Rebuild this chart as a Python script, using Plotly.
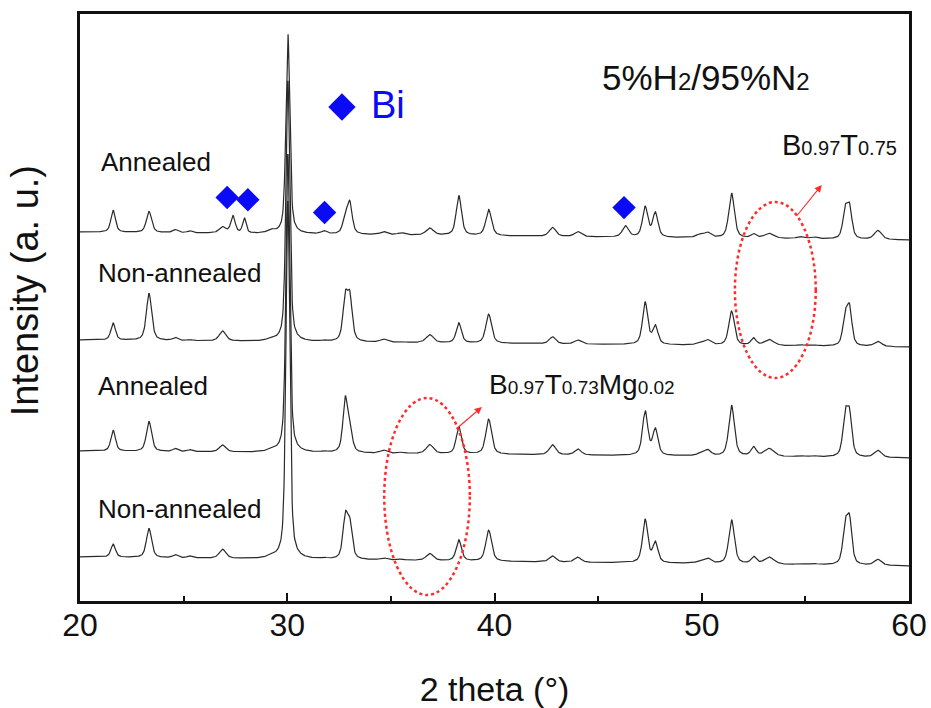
import numpy as np
import plotly.graph_objects as go

# ---- diffraction data (2theta in degrees, intensity in a.u.) ----
peak_2theta = [21.6, 23.33, 24.6, 25.3, 26.88, 27.38, 27.93, 29.2, 30.03, 31.77,
               32.8, 33.02, 34.65, 35.5, 36.88, 38.28, 39.72, 42.8, 44.02, 46.32,
               47.27, 47.76, 49.9, 50.28, 51.44, 52.5, 53.25, 54.75, 55.4, 56.92,
               57.13, 58.5]
peak_fwhm = [0.26, 0.3, 0.3, 0.3, 0.38, 0.25, 0.2, 0.4, 0.22, 0.3,
             0.27, 0.27, 0.4, 0.4, 0.42, 0.3, 0.33, 0.38, 0.38, 0.35,
             0.3, 0.3, 0.4, 0.38, 0.32, 0.3, 0.55, 0.4, 0.4, 0.27,
             0.27, 0.42]

# peak heights for each pattern (same order as peak_2theta)
h_annealed_bt = [22, 21, 3, 2, 6, 17, 15, 3, 201, 3,
                 17, 30, 3, 2, 7, 40, 26, 9, 5, 11,
                 30, 24, 3, 5, 45, 4, 5, 2, 2, 27,
                 30, 9]
h_nonannealed_bt = [17, 47, 3, 1, 10, 0, 0, 2, 262, 1,
                    42, 42, 3, 1, 8, 20, 29, 7, 4, 0,
                    42, 18, 2, 5, 34, 7, 6, 1, 1, 28,
                    36, 5]
h_annealed_btm = [21, 30, 3, 2, 7, 0, 0, 2, 300, 1,
                  52, 22, 3, 1, 9, 27, 35, 10, 6, 0,
                  44, 26, 2, 6, 51, 9, 8, 1, 1, 40,
                  40, 7]
h_nonannealed_btm = [13, 29, 3, 2, 9, 0, 0, 2, 360, 1,
                     41, 33, 2, 1, 7, 21, 31, 6, 5, 0,
                     43, 20, 2, 5, 44, 7, 7, 1, 1, 37,
                     42, 6]

# stacking offsets: background level at 20 deg and at 60 deg
bg_start = [369, 261, 150, 44]
bg_end = [361, 254, 143, 35]

pattern_labels = ["Annealed", "Non-annealed", "Annealed", "Non-annealed"]

# Bi reflections marked on the annealed B0.97T0.75 pattern
bi_2theta = [27.1, 28.1, 31.8, 46.25]

# ---- profile synthesis from peak list (pseudo-Voigt) ----
two_theta = np.arange(20.0, 60.0001, 0.02)


def pattern(heights, b0, b1):
    y = b0 + (b1 - b0) * (two_theta - 20.0) / 40.0
    eta = 0.55
    for c, w, h in zip(peak_2theta, peak_fwhm, heights):
        d = (two_theta - c) / (w / 2.0)
        lor = 1.0 / (1.0 + d * d)
        gau = np.exp(-np.log(2.0) * d * d)
        y = y + h * (eta * lor + (1 - eta) * gau)
    return y


all_heights = [h_annealed_bt, h_nonannealed_bt, h_annealed_btm, h_nonannealed_btm]
curves = [pattern(h, b0, b1) for h, b0, b1 in zip(all_heights, bg_start, bg_end)]

fig = go.Figure()
for name, yv in zip(pattern_labels, curves):
    fig.add_trace(go.Scatter(x=two_theta, y=yv, mode="lines", name=name,
                             line=dict(color="#2a2a2a", width=1.2),
                             showlegend=False, hoverinfo="skip"))

# Bi markers sit just above the local maximum of the top pattern
top = curves[0]
bi_y = []
for bx in bi_2theta:
    m = (two_theta > bx - 0.4) & (two_theta < bx + 0.4)
    bi_y.append(float(top[m].max()) + 18)
fig.add_trace(go.Scatter(x=bi_2theta, y=bi_y, mode="markers",
                         marker=dict(symbol="diamond", size=18, color="#0a0af5"),
                         showlegend=False, hoverinfo="skip"))
# key symbol for Bi
fig.add_trace(go.Scatter(x=[32.64], y=[494], mode="markers",
                         marker=dict(symbol="diamond", size=21, color="#0a0af5"),
                         showlegend=False, hoverinfo="skip"))

font_main = "Arial, Liberation Sans, sans-serif"

ann = []
label_pos = [(20.92, 439), (20.77, 328), (20.77, 215), (20.77, 92)]
for txt, (lx, ly) in zip(pattern_labels, label_pos):
    ann.append(dict(x=lx, y=ly, xref="x", yref="y", text=txt, showarrow=False,
                    xanchor="left", yanchor="middle",
                    font=dict(family=font_main, size=26, color="#111111")))

ann.append(dict(x=33.95, y=496, xref="x", yref="y", text="Bi", showarrow=False,
                xanchor="left", yanchor="middle",
                font=dict(family=font_main, size=38, color="#0a0af5")))

sub = '<span style="font-size:24px">{}</span>'
ann.append(dict(x=50.2, y=524, xref="x", yref="y",
                text="5%H" + sub.format("2") + "/95%N" + sub.format("2"),
                showarrow=False, xanchor="center", yanchor="middle",
                font=dict(family=font_main, size=35, color="#111111")))

sub2 = '<span style="font-size:20px">{}</span>'
ann.append(dict(x=56.65, y=456, xref="x", yref="y",
                text="B" + sub2.format("0.97") + "T" + sub2.format("0.75"),
                showarrow=False, xanchor="center", yanchor="middle",
                font=dict(family=font_main, size=29, color="#111111")))
sub3 = '<span style="font-size:19px">{}</span>'
ann.append(dict(x=44.2, y=217, xref="x", yref="y",
                text="B" + sub3.format("0.97") + "T" + sub3.format("0.73")
                + "Mg" + sub3.format("0.02"),
                showarrow=False, xanchor="center", yanchor="middle",
                font=dict(family=font_main, size=28, color="#111111")))

# y-axis title
ann.append(dict(x=-0.066, y=0.528, xref="paper", yref="paper",
                text="Intensity (a. u.)", textangle=-90, showarrow=False,
                xanchor="center", yanchor="middle",
                font=dict(family=font_main, size=38, color="#111111")))

# pointer arrows from highlighted regions to their compositions
for (hx, hy, tx, ty) in [(55.79, 416, 54.54, 384), (39.39, 194, 38.09, 171)]:
    ann.append(dict(x=hx, y=hy, ax=tx, ay=ty, xref="x", yref="y",
                    axref="x", ayref="y", text="", showarrow=True,
                    arrowhead=2, arrowsize=1.3, arrowwidth=1.1,
                    arrowcolor="#ff2a2a", standoff=0, startstandoff=0))

# dotted ellipses highlighting the 2theta windows
highlight = [(51.60, 55.50, 223, 399), (34.68, 38.81, 6, 203)]
shapes = [dict(type="circle", xref="x", yref="y", x0=a, x1=b, y0=c, y1=d,
               line=dict(color="#ff2a2a", width=2.5, dash="dot"))
          for a, b, c, d in highlight]

fig.update_layout(
    width=931, height=708,
    margin=dict(l=80, r=22, t=14, b=107),
    paper_bgcolor="white", plot_bgcolor="white",
    annotations=ann, shapes=shapes,
    font=dict(family=font_main, color="#111111"),
)
fig.update_xaxes(
    range=[20, 60], tickvals=[20, 30, 40, 50, 60],
    ticks="inside", ticklen=8, tickwidth=2, tickcolor="#111111",
    minor=dict(dtick=5, ticks="inside", ticklen=5, tickwidth=2, tickcolor="#111111"),
    showline=True, linewidth=2.5, linecolor="#111111", mirror=True,
    showgrid=False, zeroline=False, automargin=False,
    tickfont=dict(family=font_main, size=32, color="#111111"),
    ticklabelstandoff=-6,
    title=dict(text="2 theta (°)", font=dict(family=font_main, size=34, color="#111111"),
               standoff=36),
)
fig.update_yaxes(
    range=[0, 587], showticklabels=False, ticks="",
    showline=True, linewidth=2.5, linecolor="#111111", mirror=True,
    showgrid=False, zeroline=False, automargin=False,
)

fig.write_html("out.html")
